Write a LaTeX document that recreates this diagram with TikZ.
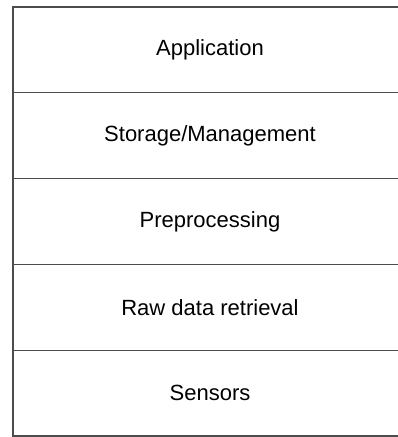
\documentclass[tikz,border=0pt]{standalone}
\usepackage{fontspec}
\setmainfont{Liberation Sans}
\usetikzlibrary{positioning}

\tikzset{layer/.style={draw=black!70, line width=1.3pt, minimum width=394pt,
    minimum height=85.8pt, inner sep=0pt, outer sep=0pt,
    font=\fontsize{22}{26}\selectfont}}

\begin{document}
\begin{tikzpicture}[x=1pt,y=-1pt]
        \useasboundingbox (0,0) rectangle (398,437);

        % layer stack
            \node[layer, anchor=north west] (app) at (13,7) {Application};
            \node[layer, below=0pt of app] (store) {Storage/Management};
            \node[layer, below=0pt of store] (prep) {Preprocessing};
            \node[layer, below=0pt of prep] (raw) {Raw data retrieval};
            \node[layer, below=0pt of raw] (sens) {Sensors};

        \end{tikzpicture}
\end{document}
